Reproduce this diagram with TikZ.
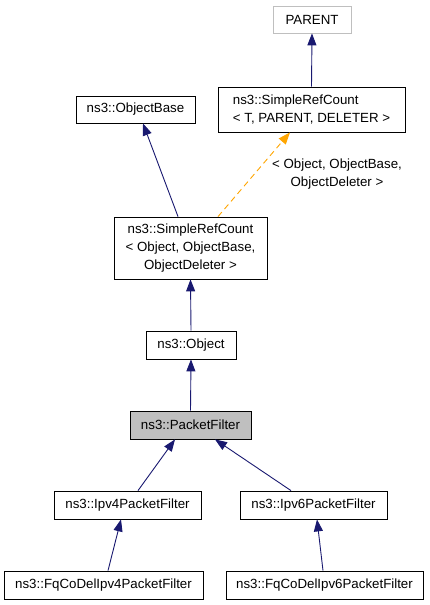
\documentclass[tikz,border=0pt]{standalone}
\usepackage{fontspec}
\setmainfont{Liberation Sans}
\usepackage{tikz}
\usetikzlibrary{arrows.meta,positioning}
\definecolor{edgeblue}{HTML}{191970}
\definecolor{tmplorange}{HTML}{FFA500}
\definecolor{boxgray}{HTML}{BFBFBF}

\begin{document}
\begin{tikzpicture}[x=1pt,y=-1pt,
    cls/.style={draw=black,line width=0.8pt,fill=white,inner sep=0pt,
      font=\fontsize{13.3}{17.7}\selectfont},
    inherit/.style={edgeblue,line width=0.9pt,-{Triangle[width=9pt,length=12pt]}},
    tmpl/.style={tmplorange,line width=0.9pt,dashed,dash pattern=on 6pt off 4pt,
      -{Triangle[width=9pt,length=12pt]}}]
  \useasboundingbox (0,0) rectangle (429,605);

  % Template base classes
  \node[cls,draw=boxgray,minimum width=78pt,minimum height=27pt] (parent) at (312,19.5) {PARENT};
  \node[cls,align=left,minimum width=187pt,minimum height=45pt] (srcT) at (311.5,109.5)
    {ns3::SimpleRefCount\\< T, PARENT, DELETER >};
  \node[cls,minimum width=119pt,minimum height=27pt] (objbase) at (135.5,109.5) {ns3::ObjectBase};
  \node[cls,align=center,minimum width=153pt,minimum height=62pt] (srcObj) at (190.5,248)
    {ns3::SimpleRefCount\\< Object, ObjectBase,\\ObjectDeleter >};

  % Main chain
  \node[cls,minimum width=90pt,minimum height=28pt] (object) at (191,345) {ns3::Object};
  \node[cls,fill=boxgray,minimum width=121pt,minimum height=28pt] (pfilter) at (190.5,425) {ns3::PacketFilter};

  % Derived filters
  \node[cls,minimum width=147pt,minimum height=28pt] (ipv4) at (127.5,505) {ns3::Ipv4PacketFilter};
  \node[cls,minimum width=147pt,minimum height=28pt] (ipv6) at (313.5,505) {ns3::Ipv6PacketFilter};
  \node[cls,minimum width=199pt,minimum height=28pt] (fq4) at (103.5,585) {ns3::FqCoDelIpv4PacketFilter};
  \node[cls,minimum width=197pt,minimum height=28pt] (fq6) at (324.5,585) {ns3::FqCoDelIpv6PacketFilter};

  % Inheritance edges
  \draw[inherit] (srcT.north) -- (parent.south);
  \draw[inherit] ([xshift=-12.5pt]srcObj.north) -- ([xshift=7.5pt]objbase.south);
  \draw[tmpl] ([xshift=27.5pt]srcObj.north) -- ([xshift=-21.5pt]srcT.south);
  \node[font=\fontsize{13.3}{17.7}\selectfont,align=center,inner sep=0pt] (tmpllabel) at (337,174)
    {< Object, ObjectBase,\\ObjectDeleter >};
  \draw[inherit] (object.north) -- (srcObj.south);
  \draw[inherit] (pfilter.north) -- (object.south);
  \draw[inherit] ([xshift=10.5pt]ipv4.north) -- ([xshift=-15.5pt]pfilter.south);
  \draw[inherit] ([xshift=-22.5pt]ipv6.north) -- ([xshift=24.5pt]pfilter.south);
  \draw[inherit] ([xshift=4.5pt]fq4.north) -- ([xshift=-6.5pt]ipv4.south);
  \draw[inherit] ([xshift=-1.5pt]fq6.north) -- ([xshift=3.5pt]ipv6.south);
\end{tikzpicture}
\end{document}
